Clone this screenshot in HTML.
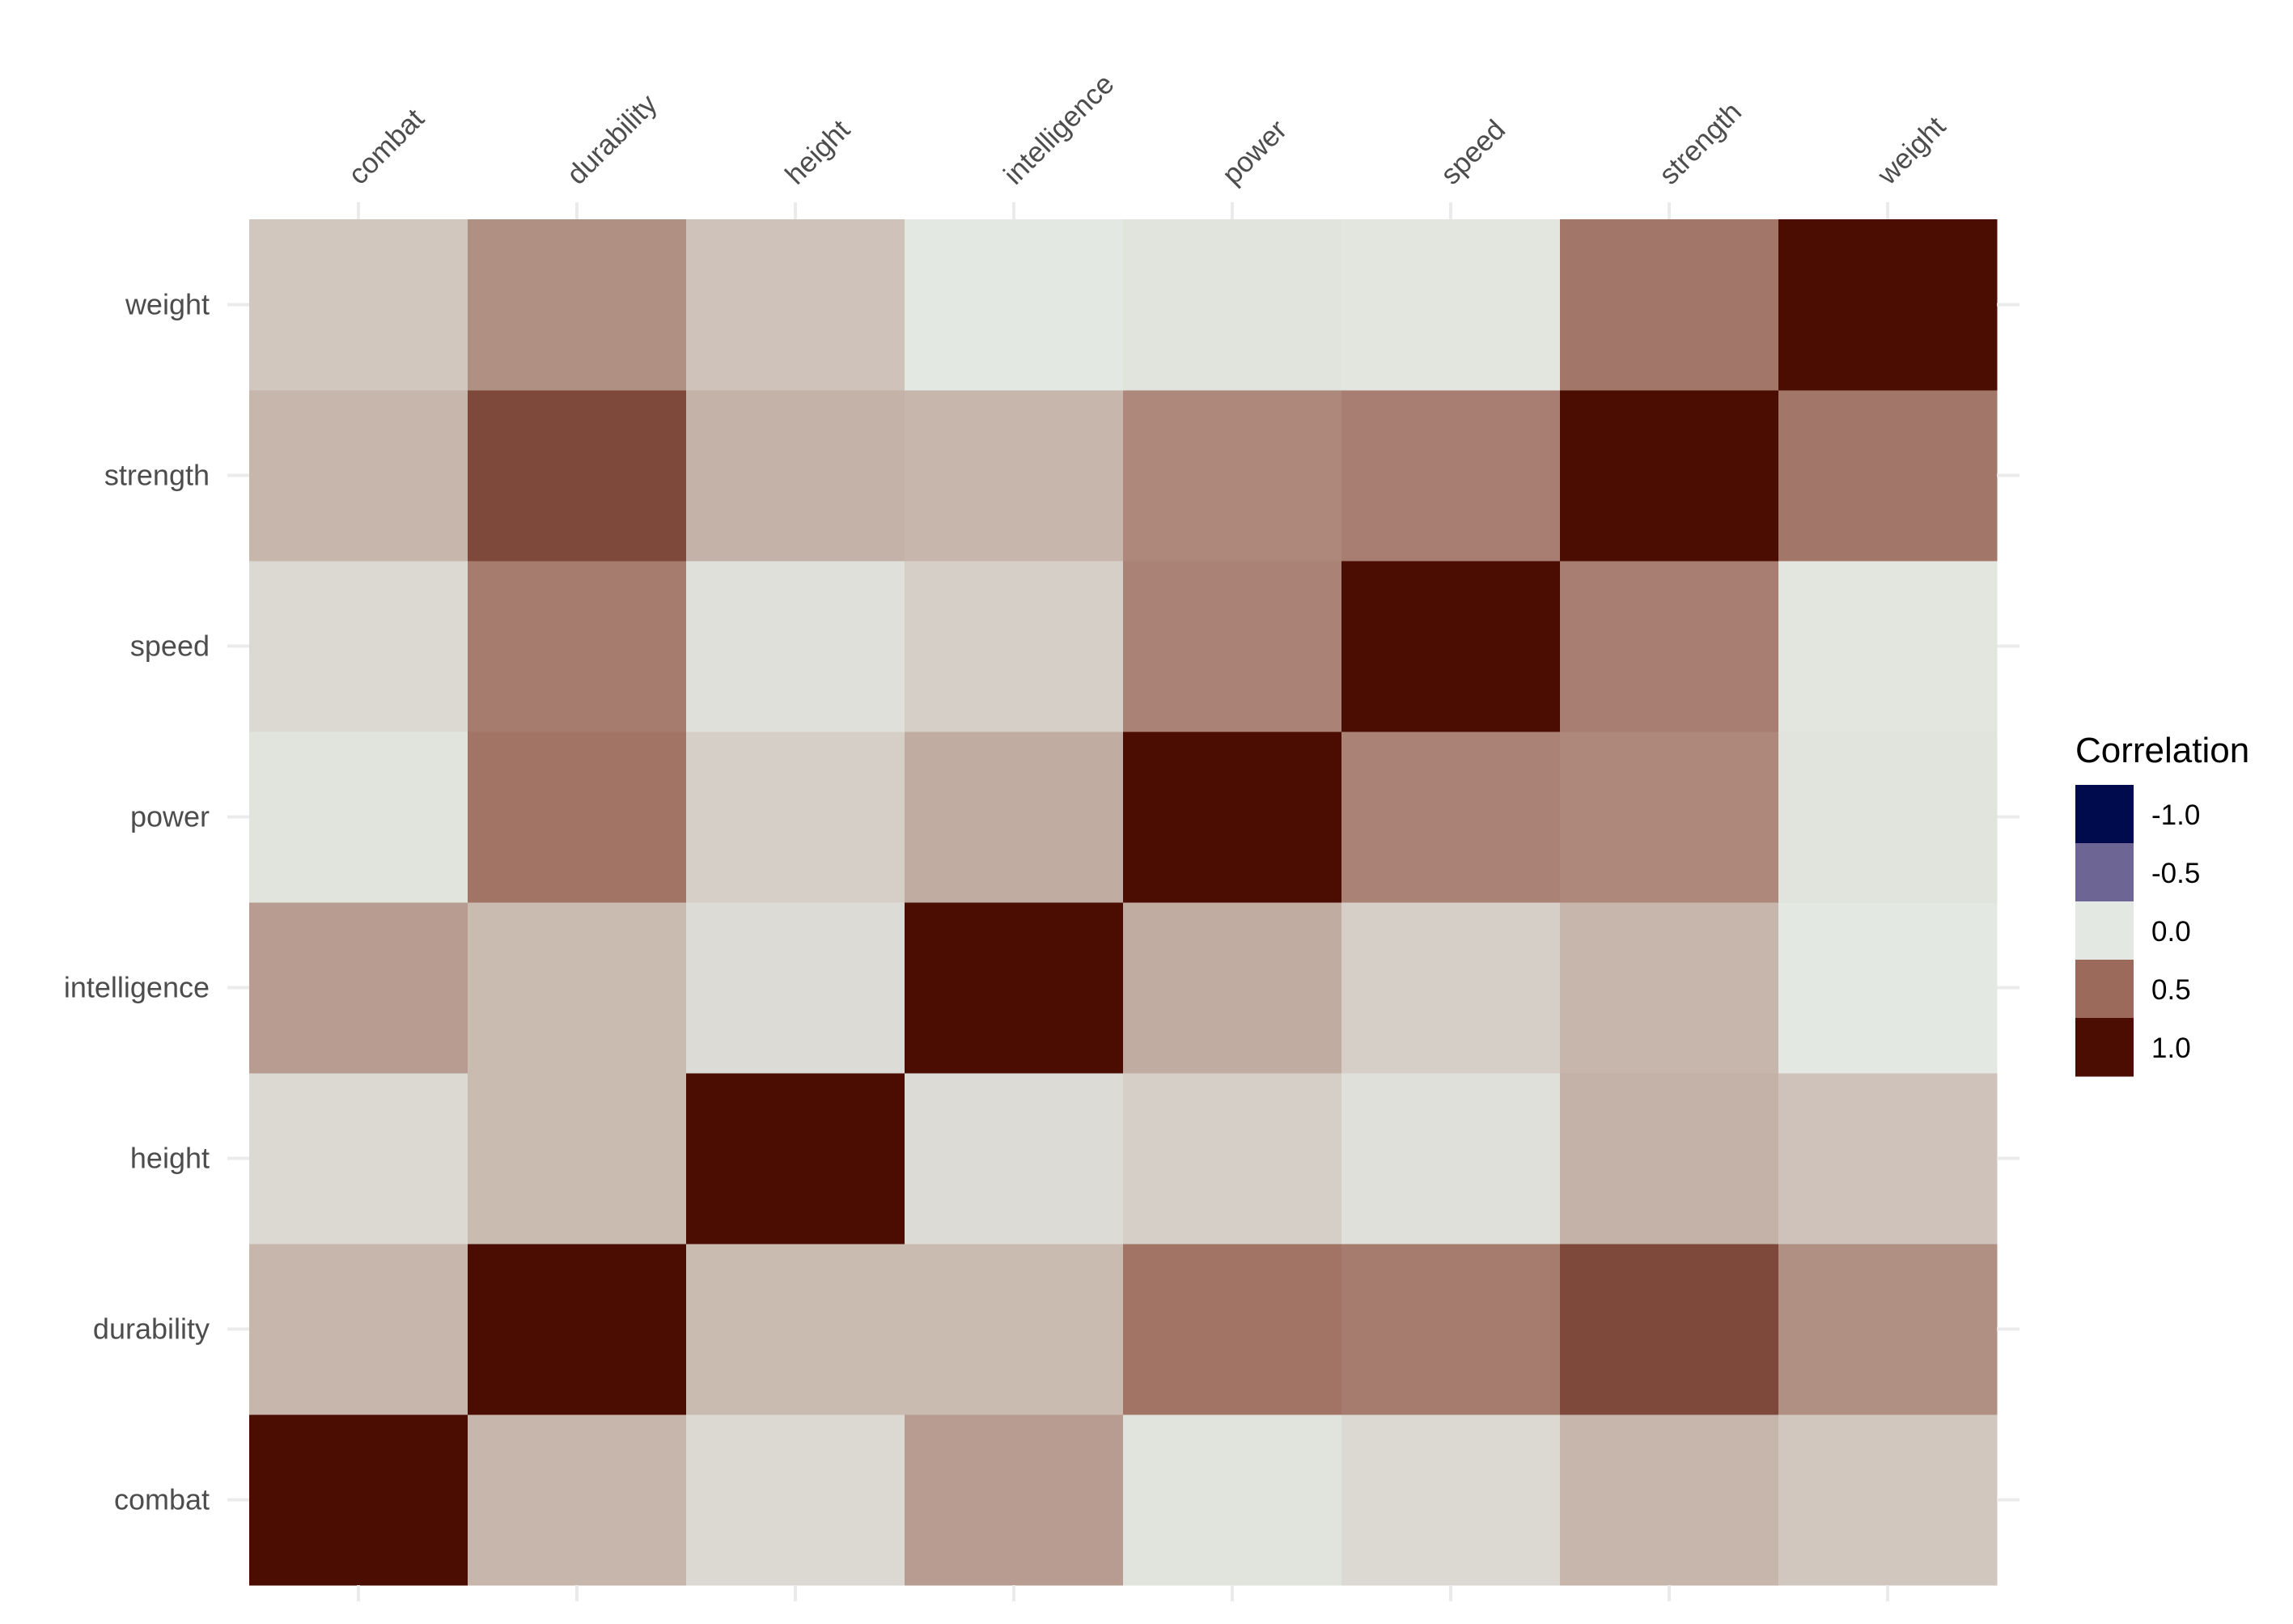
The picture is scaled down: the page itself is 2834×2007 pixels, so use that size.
<!DOCTYPE html>
<html><head><meta charset="utf-8"><style>
html,body{margin:0;padding:0;background:#fff;}
svg{display:block;font-family:"Liberation Sans",sans-serif;}
</style></head><body>
<svg id="chart" width="2834" height="2007" viewBox="0 0 2834 2007" xmlns="http://www.w3.org/2000/svg">
<rect width="2834" height="2007" fill="#fff"/>
<g id="cells"></g>
<g id="ticks"></g>
<g id="labels"></g>
<g id="legend">
<text x="2565" y="942" font-size="44" fill="#000">Correlation</text>
</g>
</svg>
<script>
const variables = ["combat","durability","height","intelligence","power","speed","strength","weight"];
const rowCombat       = [1, 0.2, 0.06, 0.3, 0.02, 0.06, 0.2, 0.13];
const rowDurability   = [0.2, 1, 0.18, 0.18, 0.46, 0.43, 0.68, 0.35];
const rowHeight       = [0.06, 0.18, 1, 0.05, 0.1, 0.03, 0.22, 0.15];
const rowIntelligence = [0.3, 0.18, 0.05, 1, 0.24, 0.1, 0.2, 0.0];
const rowPower        = [0.02, 0.46, 0.1, 0.24, 1, 0.4, 0.38, 0.02];
const rowSpeed        = [0.06, 0.43, 0.03, 0.1, 0.4, 1, 0.42, 0.01];
const rowStrength     = [0.2, 0.68, 0.22, 0.2, 0.38, 0.42, 1, 0.45];
const rowWeight       = [0.13, 0.35, 0.15, 0.0, 0.02, 0.01, 0.45, 1];
const legendValues = [-1, -0.5, 0, 0.5, 1];
const legendLabels = ["-1.0","-0.5","0.0","0.5","1.0"];

const matrix = [rowCombat,rowDurability,rowHeight,rowIntelligence,rowPower,rowSpeed,rowStrength,rowWeight];
const NS = "http://www.w3.org/2000/svg";
const L = 308, R = 2468, T = 271, B = 1959;
const cw = (R - L) / variables.length, ch = (B - T) / variables.length;
function xPos(i){ return L + i * cw; }
function yPos(j){ return B - (j + 1) * ch; }
const stops = [[-1,[0,11,77]],[-0.5,[109,101,148]],[0,[228,232,226]],[0.5,[155,106,91]],[1,[75,12,2]]];
function color(v){
  for (let k = 0; k < stops.length - 1; k++){
    const a = stops[k], b = stops[k+1];
    if (v <= b[0]){
      const t = Math.max(0, (v - a[0]) / (b[0] - a[0]));
      const c = a[1].map((x, i) => Math.round(x + (b[1][i] - x) * t));
      return "rgb(" + c.join(",") + ")";
    }
  }
  return "rgb(75,12,2)";
}
function mk(tag, attrs, parent){
  const e = document.createElementNS(NS, tag);
  for (const k in attrs) e.setAttribute(k, attrs[k]);
  parent.appendChild(e);
  return e;
}
const cells = document.getElementById("cells");
const ticks = document.getElementById("ticks");
const labels = document.getElementById("labels");
matrix.forEach((row, j) => {
  row.forEach((v, i) => {
    const r = mk("rect", {x: xPos(i), y: yPos(j), width: cw + 0.5, height: ch + 0.5, fill: color(v)}, cells);
    
    
  });
});
variables.forEach((name, i) => {
  const cx = xPos(i) + cw / 2;
  const cy = yPos(i) + ch / 2;
  const t1 = mk("line", {x1: cx, x2: cx, y1: 250, y2: T, stroke: "#ebebeb", "stroke-width": 4}, ticks);
  
  
  const t2 = mk("line", {x1: cx, x2: cx, y1: B, y2: B + 20, stroke: "#ebebeb", "stroke-width": 4}, ticks);
  
  
  const t3 = mk("line", {x1: 281, x2: L, y1: cy, y2: cy, stroke: "#ebebeb", "stroke-width": 4}, ticks);
  
  
  const t4 = mk("line", {x1: R, x2: 2496, y1: cy, y2: cy, stroke: "#ebebeb", "stroke-width": 4}, ticks);
  
  
  const ax = cx + 2, ay = 230;
  const xl = mk("text", {x: ax, y: ay, "font-size": 35, fill: "#4d4d4d", transform: "rotate(-45 " + ax + " " + ay + ")"}, labels);
  xl.textContent = name;
  
  
  const yl = mk("text", {x: 259, y: cy + 12, "font-size": 36, fill: "#4d4d4d", "text-anchor": "end"}, labels);
  yl.textContent = name;
  
  
});
const legend = document.getElementById("legend");
legendValues.forEach((v, k) => {
  const y = 970 + k * 72;
  const r = mk("rect", {x: 2565, y: y, width: 72, height: 72.5, fill: color(v)}, legend);
  
  
  const t = mk("text", {x: 2659, y: y + 49, "font-size": 35, fill: "#000"}, legend);
  t.textContent = legendLabels[k];
  
  
});
</script>
</body></html>
